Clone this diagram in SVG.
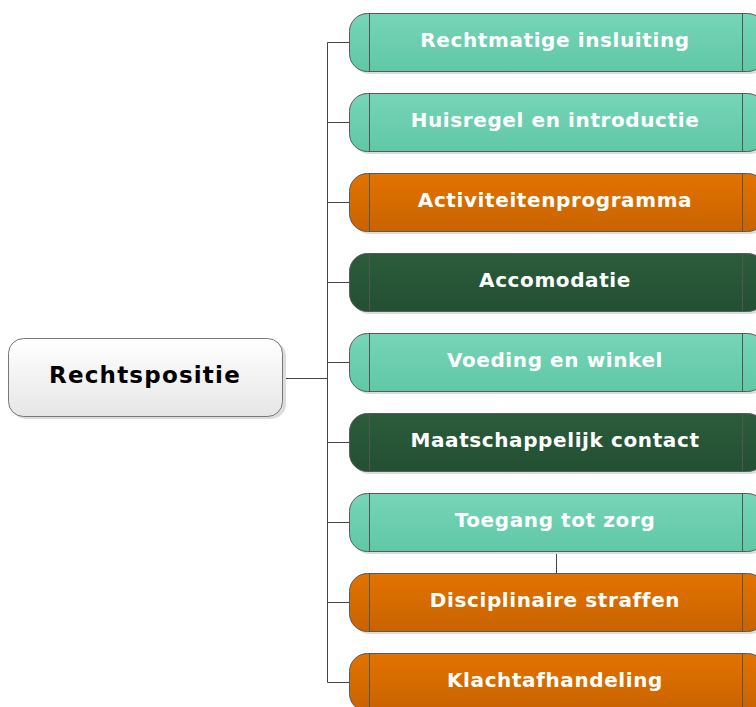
<svg xmlns="http://www.w3.org/2000/svg" width="756" height="707" viewBox="0 0 756 707">
<defs>
<linearGradient id="gTeal" x1="0" y1="0" x2="0" y2="1"><stop offset="0" stop-color="#77d4b7"/><stop offset="1" stop-color="#60c8a7"/></linearGradient>
<linearGradient id="gOrange" x1="0" y1="0" x2="0" y2="1"><stop offset="0" stop-color="#e27300"/><stop offset="1" stop-color="#c96300"/></linearGradient>
<linearGradient id="gDark" x1="0" y1="0" x2="0" y2="1"><stop offset="0" stop-color="#2b5c3b"/><stop offset="1" stop-color="#234f33"/></linearGradient>
<linearGradient id="gRoot" x1="0" y1="0" x2="0" y2="1"><stop offset="0" stop-color="#ffffff"/><stop offset="1" stop-color="#e6e6e6"/></linearGradient>
</defs>
<style>
.box{stroke:#5a5a5a;stroke-width:1}
.shadow{fill:#dcdcdc}
.div{stroke:#555;stroke-width:1}
.lbl{font-family:"DejaVu Sans",Verdana,sans-serif;font-weight:bold;font-size:20px;letter-spacing:0.6px;fill:#ffffff;text-anchor:middle}
.root{font-family:"DejaVu Sans",Verdana,sans-serif;font-weight:bold;font-size:23px;letter-spacing:1.2px;fill:#000;text-anchor:middle}
.conn{stroke:#444;stroke-width:1;fill:none}
</style>
<rect width="756" height="707" fill="#ffffff"/>
<g id="connectors">
<path class="conn" d="M283 378.5H327.5M327.5 42.5V682.5M327.5 42.5H349M327.5 122.5H349M327.5 202.5H349M327.5 282.5H349M327.5 362.5H349M327.5 442.5H349M327.5 522.5H349M327.5 602.5H349M327.5 682.5H349M556.5 551V573"/>
</g>
<g id="root">
<rect x="11" y="341" width="275" height="78" rx="15" class="shadow"/>
<rect x="8.5" y="338.5" width="274" height="78" rx="15" fill="url(#gRoot)" stroke="#777"/>
<text x="145" y="383" class="root">Rechtspositie</text>
</g>
<g id="n1">
<rect x="352" y="16" width="416" height="58" rx="18" class="shadow"/>
<rect x="349.5" y="13.5" width="416" height="58" rx="18" fill="url(#gTeal)" class="box"/>
<path class="div" d="M369.5 13.5V71.5M742.5 13.5V71.5"/>
<text x="555" y="47" class="lbl">Rechtmatige insluiting</text>
</g>
<g id="n2">
<rect x="352" y="96" width="416" height="58" rx="18" class="shadow"/>
<rect x="349.5" y="93.5" width="416" height="58" rx="18" fill="url(#gTeal)" class="box"/>
<path class="div" d="M369.5 93.5V151.5M742.5 93.5V151.5"/>
<text x="555" y="127" class="lbl">Huisregel en introductie</text>
</g>
<g id="n3">
<rect x="352" y="176" width="416" height="58" rx="18" class="shadow"/>
<rect x="349.5" y="173.5" width="416" height="58" rx="18" fill="url(#gOrange)" class="box"/>
<path class="div" d="M369.5 173.5V231.5M742.5 173.5V231.5"/>
<text x="555" y="207" class="lbl">Activiteitenprogramma</text>
</g>
<g id="n4">
<rect x="352" y="256" width="416" height="58" rx="18" class="shadow"/>
<rect x="349.5" y="253.5" width="416" height="58" rx="18" fill="url(#gDark)" class="box"/>
<path class="div" d="M369.5 253.5V311.5M742.5 253.5V311.5"/>
<text x="555" y="287" class="lbl">Accomodatie</text>
</g>
<g id="n5">
<rect x="352" y="336" width="416" height="58" rx="18" class="shadow"/>
<rect x="349.5" y="333.5" width="416" height="58" rx="18" fill="url(#gTeal)" class="box"/>
<path class="div" d="M369.5 333.5V391.5M742.5 333.5V391.5"/>
<text x="555" y="367" class="lbl">Voeding en winkel</text>
</g>
<g id="n6">
<rect x="352" y="416" width="416" height="58" rx="18" class="shadow"/>
<rect x="349.5" y="413.5" width="416" height="58" rx="18" fill="url(#gDark)" class="box"/>
<path class="div" d="M369.5 413.5V471.5M742.5 413.5V471.5"/>
<text x="555" y="447" class="lbl">Maatschappelijk contact</text>
</g>
<g id="n7">
<rect x="352" y="496" width="416" height="58" rx="18" class="shadow"/>
<rect x="349.5" y="493.5" width="416" height="58" rx="18" fill="url(#gTeal)" class="box"/>
<path class="div" d="M369.5 493.5V551.5M742.5 493.5V551.5"/>
<text x="555" y="527" class="lbl">Toegang tot zorg</text>
</g>
<g id="n8">
<rect x="352" y="576" width="416" height="58" rx="18" class="shadow"/>
<rect x="349.5" y="573.5" width="416" height="58" rx="18" fill="url(#gOrange)" class="box"/>
<path class="div" d="M369.5 573.5V631.5M742.5 573.5V631.5"/>
<text x="555" y="607" class="lbl">Disciplinaire straffen</text>
</g>
<g id="n9">
<rect x="352" y="656" width="416" height="58" rx="18" class="shadow"/>
<rect x="349.5" y="653.5" width="416" height="58" rx="18" fill="url(#gOrange)" class="box"/>
<path class="div" d="M369.5 653.5V711.5M742.5 653.5V711.5"/>
<text x="555" y="687" class="lbl">Klachtafhandeling</text>
</g>
</svg>
